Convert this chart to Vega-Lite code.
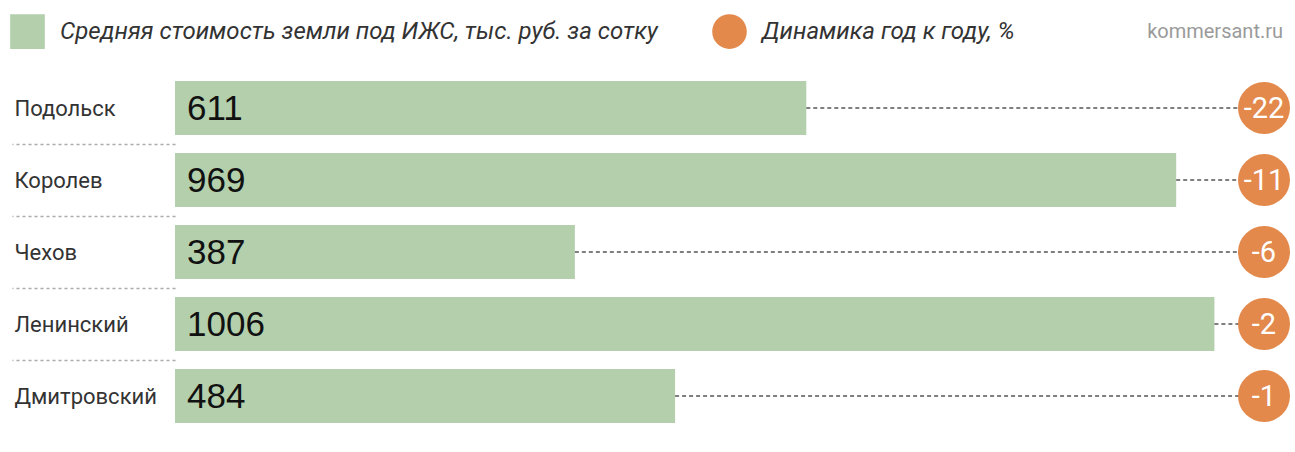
{
  "$schema": "https://vega.github.io/schema/vega-lite/v6.json",
  "width": 1120,
  "height": 360,
  "autosize": {"type": "none"},
  "padding": {"left": 175, "top": 72, "right": 0, "bottom": 20},
  "background": "white",
  "config": {"view": {"stroke": null}},
  "title": {
    "text": "kommersant.ru",
    "anchor": "end",
    "frame": "group",
    "orient": "top",
    "offset": -28,
    "dx": -12,
    "color": "#9a9a9a",
    "fontWeight": "normal",
    "fontSize": 20,
    "font": "Roboto"
  },
  "data": {
    "values": [
      {"region": "Подольск", "price": 611, "change": -22},
      {"region": "Королев", "price": 969, "change": -11},
      {"region": "Чехов", "price": 387, "change": -6},
      {"region": "Ленинский", "price": 1006, "change": -2},
      {"region": "Дмитровский", "price": 484, "change": -1}
    ]
  },
  "encoding": {
    "y": {
      "field": "region",
      "type": "nominal",
      "sort": null,
      "scale": {"paddingInner": 0.25, "paddingOuter": 0.125},
      "axis": {
        "title": null,
        "domain": false,
        "ticks": true,
        "bandPosition": 1,
        "tickExtra": false,
        "tickOffset": 9,
        "labelOffset": -9,
        "tickSize": 163,
        "tickColor": "#aaaaaa",
        "tickDash": [3, 3],
        "tickWidth": 1.5,
        "tickOpacity": {"condition": {"test": "datum.value === 'Дмитровский'", "value": 0}, "value": 1},
        "labelAlign": "left",
        "labelPadding": -2,
        "labelFontSize": 22,
        "labelFont": "Roboto",
        "labelColor": "#333333"
      }
    }
  },
  "layer": [
    {
      "mark": {"type": "bar"},
      "encoding": {
        "x": {"field": "price", "type": "quantitative", "scale": {"domain": [0, 1084], "nice": false, "zero": true}, "axis": null},
        "color": {
          "field": "series",
          "type": "nominal",
          "scale": {
            "domain": ["Средняя стоимость земли под ИЖС, тыс. руб. за сотку", "Динамика год к году, %"],
            "range": ["#b3cfac", "#e3894c"]
          },
          "legend": {
            "orient": "none",
            "legendX": -165,
            "legendY": -58,
            "direction": "horizontal",
            "title": null,
            "symbolSize": 1200,
            "symbolStrokeWidth": 0,
            "symbolOpacity": 1,
            "symbolType": "square",
            "labelFontSize": 24,
            "labelFont": "Roboto",
            "labelFontStyle": "italic",
            "labelColor": "#333333",
            "labelLimit": 0,
            "labelOffset": 15,
            "columnPadding": 54,
            "values": ["Средняя стоимость земли под ИЖС, тыс. руб. за сотку", "Динамика год к году, %"],
            "encode": {
              "symbols": {
                "update": {
                  "shape": {"signal": "datum.index === 1 ? 'circle' : 'square'"}
                }
              }
            }
          }
        }
      },
      "transform": [{"calculate": "'Средняя стоимость земли под ИЖС, тыс. руб. за сотку'", "as": "series"}]
    },
    {
      "mark": {"type": "rule", "color": "#555555", "strokeDash": [4, 3], "strokeWidth": 1.5},
      "encoding": {
        "x": {"field": "price", "type": "quantitative", "scale": {"domain": [0, 1084], "nice": false, "zero": true}},
        "x2": {"datum": 1054}
      }
    },
    {
      "mark": {"type": "text", "align": "left", "baseline": "middle", "dx": 12, "dy": 1, "fontSize": 35, "font": "Liberation Sans", "color": "#111111"},
      "encoding": {
        "x": {"datum": 0, "type": "quantitative", "scale": {"domain": [0, 1084], "nice": false, "zero": true}},
        "text": {"field": "price", "type": "quantitative"}
      }
    },
    {
      "mark": {"type": "circle", "size": 2700, "opacity": 1, "color": "#e3894c"},
      "encoding": {
        "x": {"datum": 1054, "type": "quantitative", "scale": {"domain": [0, 1084], "nice": false, "zero": true}}
      }
    },
    {
      "mark": {"type": "text", "align": "center", "baseline": "middle", "dy": 1, "fontSize": 29, "font": "Roboto", "color": "white"},
      "encoding": {
        "x": {"datum": 1054, "type": "quantitative", "scale": {"domain": [0, 1084], "nice": false, "zero": true}},
        "text": {"field": "change", "type": "nominal"}
      }
    }
  ]
}
